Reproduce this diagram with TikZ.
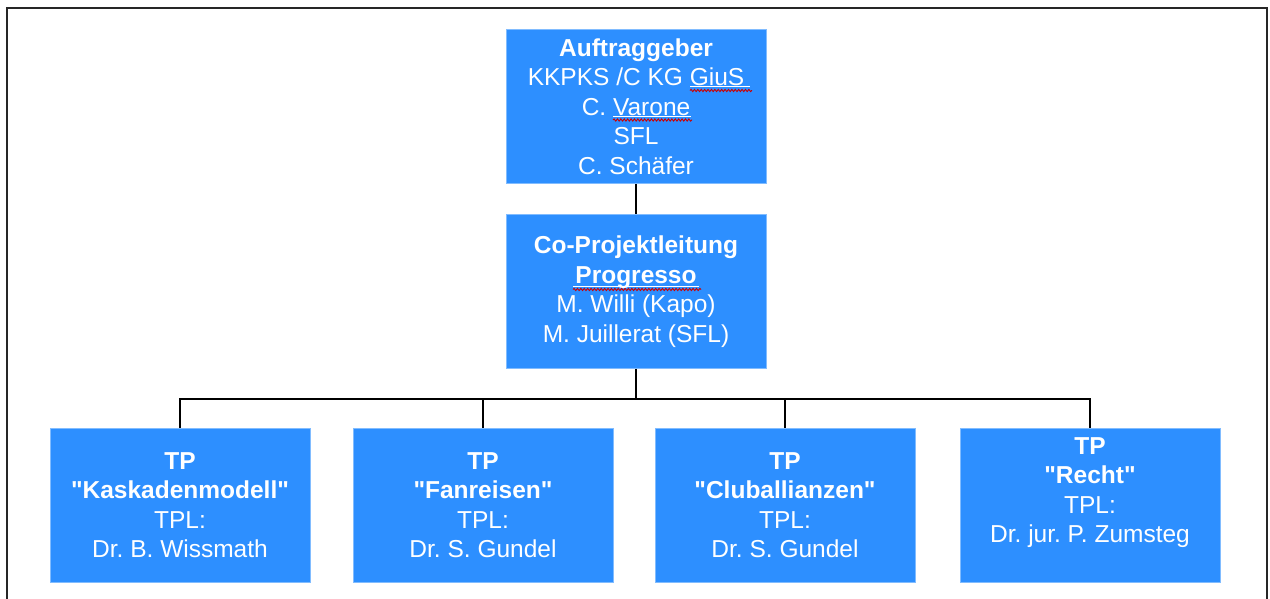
\documentclass[tikz,border=0pt]{standalone}
\usepackage{fontspec}
\setmainfont{Liberation Sans}[Ligatures=TeXOff]
\usetikzlibrary{decorations.pathmorphing}
\definecolor{boxblue}{RGB}{45,143,255}
\tikzset{
  orgbox/.style={rectangle, fill=boxblue, draw=boxblue!60!white, line width=0.6pt,
    minimum width=260pt, minimum height=154pt, inner sep=0pt, align=center,
    text=white, font=\frenchspacing\fontsize{24.5}{29.5}\selectfont},
  conn/.style={draw=black, line width=1.5pt},
  frameline/.style={draw=black!85, line width=2.2pt},
  squiggle/.style={draw=red!80!black, line width=0.9pt, decorate,
    decoration={snake, amplitude=1.1pt, segment length=3.4pt}},
  uline/.style={draw=white, line width=1pt}
}
\begin{document}
\begin{tikzpicture}[x=1pt,y=-1pt]
\useasboundingbox (0,0) rectangle (1270,599);
\fill[white] (0,0) rectangle (1270,599);
\draw[frameline] (7,599) -- (7,8) -- (1267,8) -- (1267,599);

\node[orgbox] (top) at (636,106.5) {\textbf{Auftraggeber}\\KKPKS /C KG GiuS\\C. Varone\\SFL\\C. Schäfer};
\node[orgbox] (mid) at (636,291.5) {\textbf{Co-Projektleitung}\\\textbf{Progresso}\\M. Willi (Kapo)\\M. Juillerat (SFL)};
\node[orgbox] (b1) at (180,505) {\textbf{TP}\\\textbf{"Kaskadenmodell"}\\TPL:\\Dr. B. Wissmath};
\node[orgbox] (b2) at (483,505) {\textbf{TP}\\\textbf{"Fanreisen"}\\TPL:\\Dr. S. Gundel};
\node[orgbox] (b3) at (785,505) {\textbf{TP}\\\textbf{"Cluballianzen"}\\TPL:\\Dr. S. Gundel};
\node[orgbox] (b4) at (1090,505) {\textbf{TP}\\\textbf{"Recht"}\\TPL:\\Dr. jur. P. Zumsteg\\~};

\coordinate (bus) at (636,399);
\draw[conn] (top.south) -- (mid.north);
\draw[conn] (mid.south) -- (bus);
\draw[conn] (b1.north) |- (bus) -| (b4.north);
\draw[conn] (b2.north) -- (b2.north |- bus);
\draw[conn] (b3.north) -- (b3.north |- bus);

% underlines and spell-check marks
\draw[uline] (690,87) -- (750,87);
\draw[squiggle] (690,90.5) -- (752,90.5);
\draw[uline] (613,116.5) -- (691,116.5);
\draw[squiggle] (613,120) -- (692,120);
\draw[uline] (573,286) -- (699,286);
\draw[squiggle] (573,289.5) -- (701,289.5);
\end{tikzpicture}
\end{document}
